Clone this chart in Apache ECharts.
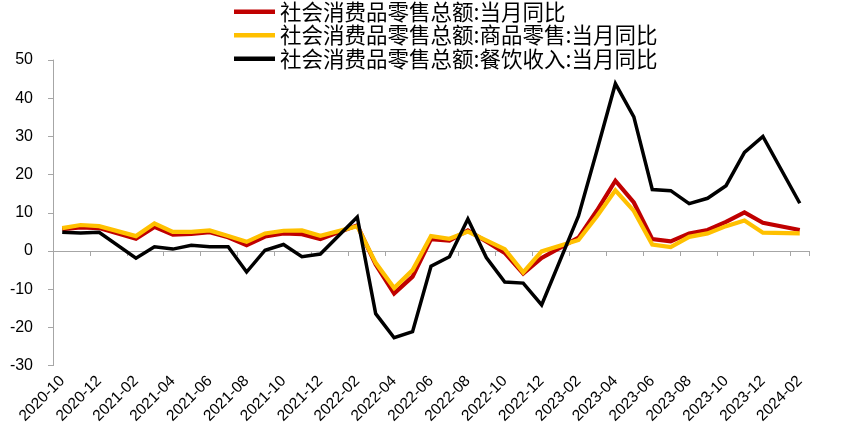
<!DOCTYPE html>
<html>
<head>
<meta charset="utf-8">
<script src="https://cdn.jsdelivr.net/npm/echarts@6/dist/echarts.min.js"></script>
<style>
html,body{margin:0;padding:0;background:#fff;}
#chart{width:860px;height:438px;}
</style>
</head>
<body>
<div id="chart"></div>
<script>
const months = [
  '2020-10','2020-11','2020-12',
  '2021-01','2021-02','2021-03','2021-04','2021-05','2021-06','2021-07','2021-08','2021-09','2021-10','2021-11','2021-12',
  '2022-01','2022-02','2022-03','2022-04','2022-05','2022-06','2022-07','2022-08','2022-09','2022-10','2022-11','2022-12',
  '2023-01','2023-02','2023-03','2023-04','2023-05','2023-06','2023-07','2023-08','2023-09','2023-10','2023-11','2023-12',
  '2024-01','2024-02'
];
const seriesNames = [
  '社会消费品零售总额:当月同比',
  '社会消费品零售总额:商品零售:当月同比',
  '社会消费品零售总额:餐饮收入:当月同比'
];
const totalRetail = [
  5.7, 6.2, 6.0,
  null, 3.2, 6.3, 4.3, 4.5, 4.9, 3.6, 1.5, 3.8, 4.6, 4.4, 3.1,
  null, 6.7, -3.5, -11.1, -6.7, 3.1, 2.7, 5.4, 2.5, -0.5, -5.9, -1.8,
  null, 3.5, 10.6, 18.4, 12.7, 3.1, 2.5, 4.6, 5.5, 7.6, 10.1, 7.4,
  null, 5.5
];
const goodsRetail = [
  6.0, 6.8, 6.5,
  null, 3.9, 7.2, 5.0, 5.0, 5.4, 3.9, 2.4, 4.6, 5.3, 5.4, 4.0,
  null, 6.5, -3.1, -9.7, -5.0, 3.9, 3.2, 5.1, 2.8, 0.5, -5.6, -0.1,
  null, 2.9, 9.1, 15.9, 10.5, 1.7, 1.0, 3.7, 4.6, 6.5, 8.0, 4.8,
  null, 4.6
];
const cateringIncome = [
  4.9, 4.7, 4.9,
  null, -1.9, 1.1, 0.5, 1.5, 1.1, 1.1, -5.5, 0.2, 1.7, -1.5, -0.8,
  null, 8.9, -16.4, -22.7, -21.1, -4.0, -1.5, 8.4, -1.7, -8.1, -8.4, -14.1,
  null, 9.2, 26.3, 43.8, 35.1, 16.1, 15.8, 12.4, 13.8, 17.1, 25.8, 30.0,
  null, 12.5
];
const yTicks = {min: -30, max: 50, interval: 10};

const chart = echarts.init(document.getElementById('chart'));
const axisGray = '#a6a6a6';
function mkSeries(name, data, color, width) {
  return {
    name: name, type: 'line', data: data, xAxisIndex: 0,
    symbol: 'none', connectNulls: true,
    lineStyle: {color: color, width: width, join: 'miter'},
    itemStyle: {color: color}
  };
}
chart.setOption({
  animation: false,
  backgroundColor: '#fff',
  textStyle: {fontFamily: 'Liberation Sans, Arial, sans-serif'},
  legend: {
    orient: 'vertical',
    left: 234, top: 0,
    padding: 0,
    icon: 'rect',
    itemWidth: 41, itemHeight: 4.5,
    itemGap: 0,
    textStyle: {fontSize: 21.5, lineHeight: 23.5, color: '#000', fontFamily: 'Noto Sans CJK SC'},
    data: seriesNames
  },
  grid: {left: 53, right: 51, top: 60, bottom: 72.4, containLabel: false},
  xAxis: [
    {
      type: 'category', data: months, boundaryGap: true,
      axisLine: {onZero: true, lineStyle: {color: axisGray, width: 1}},
      axisTick: {show: true, interval: 1, length: 5, lineStyle: {color: axisGray}},
      axisLabel: {show: false},
      splitLine: {show: false}
    },
    {
      type: 'category', data: months, boundaryGap: true, position: 'bottom',
      axisLine: {show: false, onZero: false},
      axisTick: {show: false},
      axisLabel: {interval: 1, rotate: 45, fontSize: 15.5, color: '#000', margin: 13},
      splitLine: {show: false}
    }
  ],
  yAxis: {
    type: 'value', min: yTicks.min, max: yTicks.max, interval: yTicks.interval,
    axisLine: {show: true, lineStyle: {color: axisGray, width: 1}},
    axisTick: {show: true, length: 5, lineStyle: {color: axisGray}},
    axisLabel: {fontSize: 16, color: '#000', margin: 20},
    splitLine: {show: false}
  },
  series: [
    mkSeries(seriesNames[0], totalRetail, '#C00000', 4.2),
    mkSeries(seriesNames[1], goodsRetail, '#FFC000', 4.2),
    mkSeries(seriesNames[2], cateringIncome, '#000000', 3.5)
  ]
});
</script>
</body>
</html>
